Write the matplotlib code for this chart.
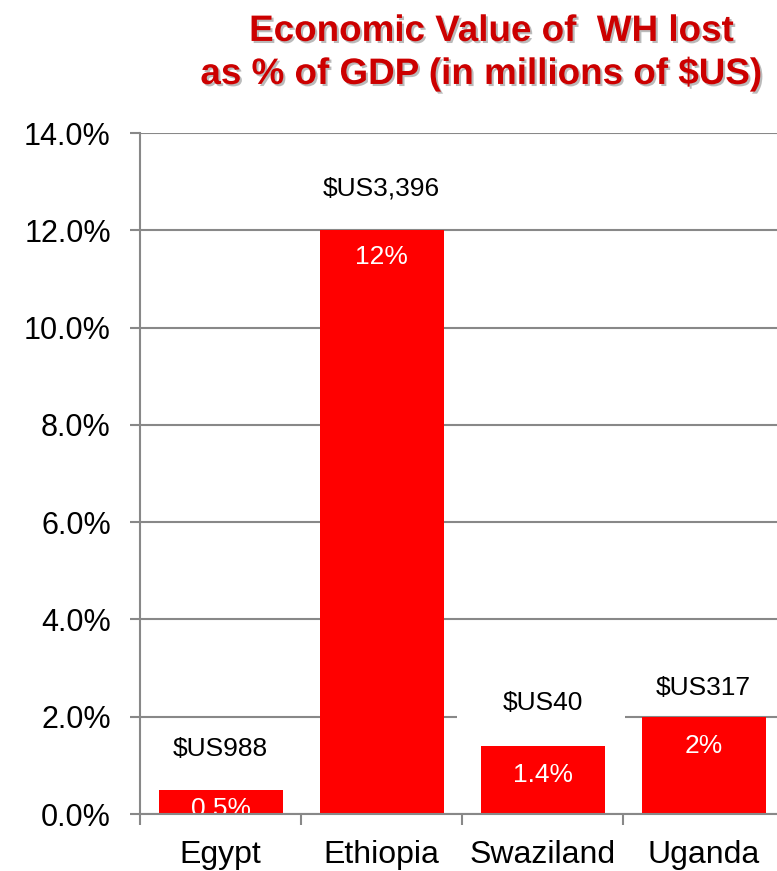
import matplotlib.pyplot as plt
import matplotlib.patheffects as pe
from matplotlib.patches import Rectangle
from matplotlib.ticker import FuncFormatter, FixedLocator

plt.rcParams['font.family'] = ['Liberation Sans', 'DejaVu Sans']

countries = ["Egypt", "Ethiopia", "Swaziland", "Uganda"]
pct_gdp = [0.5, 12, 1.4, 2]
pct_labels = ["0.5%", "12%", "1.4%", "2%"]
value_labels = ["$US988", "$US3,396", "$US40", "$US317"]

# label offsets in points (above bar top / inside bar)
top_pad = [29, 30, 31, 21]
inner_pad = [-14, -19, -21, -21]

grey = "#888888"

fig = plt.figure(figsize=(7.77, 8.71), dpi=100)
ax = fig.add_axes([0.1802, 0.0654, 0.829, 0.7819])

x = range(len(countries))
bars = ax.bar(x, pct_gdp, width=0.77, color="#ff0000", zorder=2)

ax.set_xlim(-0.5, 3.5)
ax.set_ylim(0, 14)
ax.set_yticks(range(0, 15, 2))
ax.yaxis.set_major_formatter(FuncFormatter(lambda v, p: "{:.1f}%".format(v)))
ax.grid(axis="y", color=grey, linewidth=1.5, zorder=0)
ax.set_axisbelow(True)

ax.set_xticks(list(x))
ax.set_xticklabels(countries, fontsize=23)
ax.xaxis.set_minor_locator(FixedLocator([0.5 + i for i in range(-1, 4)]))
ax.tick_params(axis="x", which="major", length=0, pad=19)
ax.tick_params(axis="x", which="minor", length=8, width=1.5, color=grey)
ax.tick_params(axis="y", labelsize=22, length=7, width=1.5, color=grey, pad=14)

for side in ("top", "right"):
    ax.spines[side].set_visible(False)
for side in ("left", "bottom"):
    ax.spines[side].set_color(grey)
    ax.spines[side].set_linewidth(1.5)
    ax.spines[side].set_zorder(3)

# the Swaziland label box hides the 2% gridline behind it
ax.add_patch(Rectangle((1.47, 1.85), 1.04, 0.3, facecolor="white",
                       edgecolor="none", zorder=1))

for i, b in enumerate(bars):
    h = b.get_height()
    ax.annotate(value_labels[i], (b.get_x() + b.get_width() / 2, h),
                xytext=(0, top_pad[i]), textcoords="offset points",
                ha="center", va="center", fontsize=19, color="black", zorder=4)
    t = ax.annotate(pct_labels[i], (b.get_x() + b.get_width() / 2, h),
                    xytext=(0, inner_pad[i]), textcoords="offset points",
                    ha="center", va="center", fontsize=19, color="white", zorder=2.5)
    t.set_clip_on(True)

shadow = [pe.withSimplePatchShadow(offset=(1.5, -1.5), shadow_rgbFace="#777777", alpha=0.5)]
fig.text(0.632, 0.953, "Economic Value of  WH lost", ha="center", va="baseline",
         fontsize=26.5, fontweight="bold", color="#cc0000", path_effects=shadow)
fig.text(0.619, 0.9036, "as % of GDP (in millions of $US)", ha="center", va="baseline",
         fontsize=26.5, fontweight="bold", color="#cc0000", path_effects=shadow)

fig.savefig("out.png", dpi=100)
